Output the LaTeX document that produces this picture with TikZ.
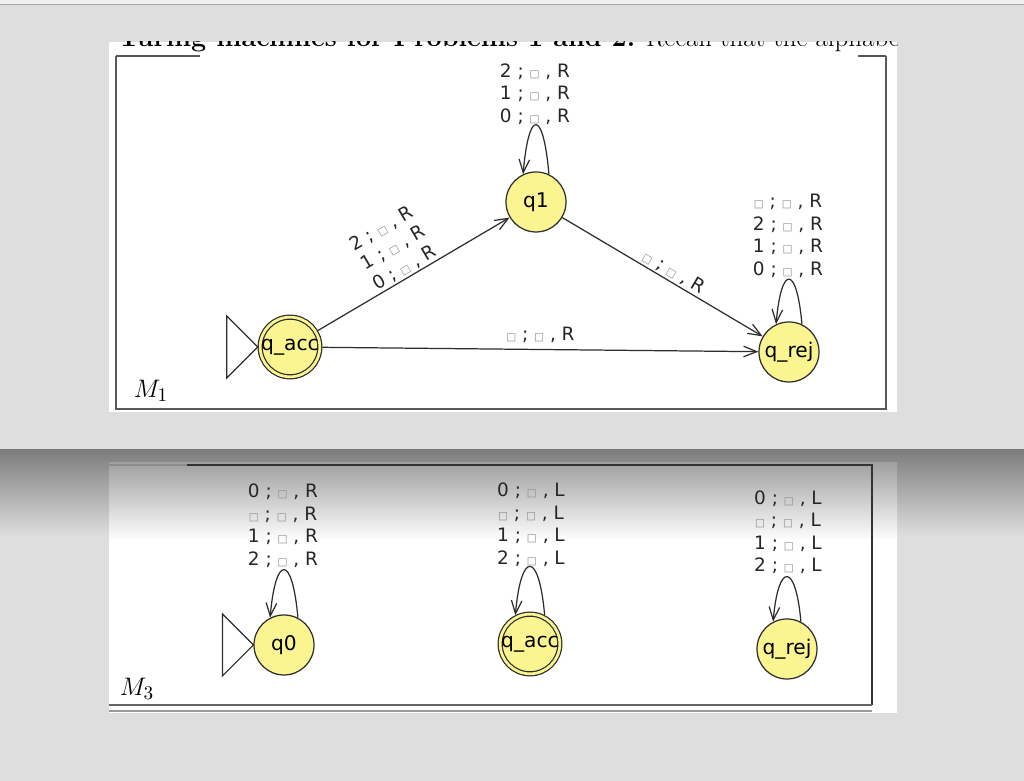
\documentclass[tikz,border=0pt]{standalone}
\usepackage{fontspec}
\usetikzlibrary{arrows.meta}
\newfontfamily\jflapfont{DejaVu Sans}
\definecolor{stateyellow}{RGB}{250,245,145}
\definecolor{paneGrey}{RGB}{222,222,222}
\definecolor{shadowGrey}{RGB}{125,125,125}
\definecolor{edgeGrey}{RGB}{45,45,45}
\newcommand{\bsym}{{\color{black!45}\fontsize{6}{6}\selectfont □}}
\newcommand{\tmove}[2]{#1 ; \bsym{} , #2}

\begin{document}
\begin{tikzpicture}[x=0.2mm,y=0.2mm,
  tmstate/.style={circle,draw=edgeGrey,line width=0.7pt,fill=stateyellow,minimum size=12mm,inner sep=0pt,font=\jflapfont\fontsize{11.5}{13}\selectfont},
  tmaccept/.style={tmstate,minimum size=11mm,double=stateyellow,double distance=0.55mm,outer sep=1.4pt},
  tr/.style={draw=edgeGrey,line width=0.7pt,-{Straight Barb[length=7.5pt,width=6pt]}},
  lbl/.style={font=\jflapfont\fontsize{10.5}{12.8}\selectfont,align=center,inner sep=1pt,text=black!85},
  startmark/.style={draw=edgeGrey,line width=0.7pt,fill=white},
  frame/.style={draw=black!65,line width=0.8pt}]
  \useasboundingbox (0,0) rectangle (1024,781);
  \fill[paneGrey] (-5,-5) rectangle (1029,786);
  \fill[black!6] (-5,777) rectangle (1029,786);
  \draw[black!35,line width=0.8pt] (-5,776.5) -- (1029,776.5);
  \fill[white] (109,369) rectangle (897,739);
  \begin{scope}
    \clip (109,739) rectangle (897,720);
    \node[anchor=base west,inner sep=0pt,font=\fontsize{15.3}{18}\selectfont] (heading) at (118,734) {\textbf{Turing machines for Problems 1 and 2.} Recall that the alphabet};
  \end{scope}
  \draw[frame] (116,725) -- (200,725);
  \draw[frame] (858,725) -- (886,725);
  \draw[frame] (116,725) -- (116,372) -- (886,372) -- (886,725);

  \shade[top color=shadowGrey,bottom color=paneGrey] (-5,331) rectangle (1029,245);
  \shade[top color=black!37,bottom color=white] (109,318) rectangle (897,240);
  \fill[white] (109,240.5) rectangle (897,68);
  \draw[frame,draw=black!80] (109,316) -- (872,316) -- (872,76);
  \draw[frame,draw=black!45] (109,316) -- (187,316);
  \draw[draw=black!60,line width=1.2pt] (109,76) -- (872,76);
  \draw[draw=black!40,line width=0.8pt] (109,70) -- (872,70);

  \node[tmstate] (qOne) at (536,579) {q1};
  \node[tmaccept] (qAccA) at (290,434) {q\_acc};
  \node[tmstate] (qRejA) at (789,429) {q\_rej};
  \node[font=\fontsize{15}{17}\selectfont] (mOne) at (151,390) {$M_1$};
  \draw[startmark] (qAccA.west) -- ++(-31,31) -- ++(0,-62) -- cycle;
  \draw[tr] (qAccA) -- node[lbl,above,sloped,pos=0.48] {\tmove{2}{R}\\\tmove{1}{R}\\\tmove{0}{R}} (qOne);
  \draw[tr] (qOne) -- node[lbl,above,sloped,pos=0.53] {\tmove{\bsym}{R}} (qRejA);
  \draw[tr] (qAccA) -- node[lbl,above=2.5pt,sloped] {\tmove{\bsym}{R}} (qRejA);
  \draw[tr] (qOne.65) .. controls +(95:66) and +(85:66) .. (qOne.115);
  \draw[tr] (qRejA.65) .. controls +(95:60) and +(85:60) .. (qRejA.115);
  \node[lbl] (qOneLoop) at (535,687) {\tmove{2}{R}\\\tmove{1}{R}\\\tmove{0}{R}};
  \node[lbl] (qRejALoop) at (788,545) {\tmove{\bsym}{R}\\\tmove{2}{R}\\\tmove{1}{R}\\\tmove{0}{R}};

  \node[tmstate] (qZero) at (284,136) {q0};
  \node[tmaccept] (qAccB) at (530,137) {q\_acc};
  \node[tmstate] (qRejB) at (787,132) {q\_rej};
  \node[font=\fontsize{15}{17}\selectfont] (mThree) at (137,92) {$M_3$};
  \draw[startmark] (qZero.west) -- ++(-31,31) -- ++(0,-62) -- cycle;
  \draw[tr] (qZero.63) .. controls +(95:64) and +(85:64) .. (qZero.117);
  \draw[tr] (qAccB.63) .. controls +(95:65) and +(85:65) .. (qAccB.117);
  \draw[tr] (qRejB.63) .. controls +(95:60) and +(85:60) .. (qRejB.117);
  \node[lbl] (qZeroLoop) at (283,255.5) {\tmove{0}{R}\\\tmove{\bsym}{R}\\\tmove{1}{R}\\\tmove{2}{R}};
  \node[lbl] (qAccBLoop) at (531,256.5) {\tmove{0}{L}\\\tmove{\bsym}{L}\\\tmove{1}{L}\\\tmove{2}{L}};
  \node[lbl] (qRejBLoop) at (788,249) {\tmove{0}{L}\\\tmove{\bsym}{L}\\\tmove{1}{L}\\\tmove{2}{L}};
\end{tikzpicture}
\end{document}
